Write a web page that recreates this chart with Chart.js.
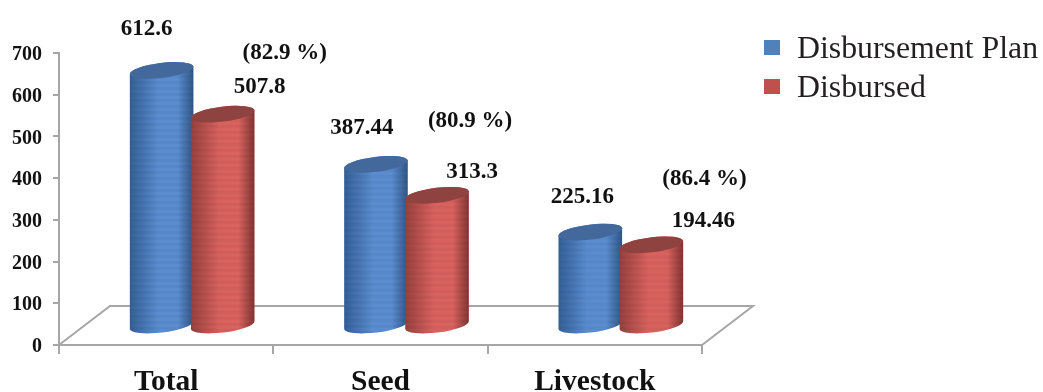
<!DOCTYPE html>
<html>
<head>
<meta charset="utf-8">
<style>
    html, body { margin: 0; padding: 0; background: #fff; overflow: hidden; }
    #wrap { position: relative; width: 1043px; height: 392px; }
    #legend { position: absolute; left: 764px; top: 28px; font: 31.8px "Liberation Serif", serif; color: #231f20; white-space: nowrap; }
    #legend div { height: 39px; line-height: 39px; position: relative; padding-left: 33px; }
    #legend i { position: absolute; left: 0; top: 12px; width: 16px; height: 15px; }
</style>
<script src="https://cdn.jsdelivr.net/npm/chart.js@4/dist/chart.umd.min.js"></script>
</head>
<body>
<div id="wrap">
    <canvas id="chart" width="1043" height="392"></canvas>
    <div id="legend"></div>
</div>
<script>
const categories = ['Total', 'Seed', 'Livestock'];
const planValues = [612.6, 387.44, 225.16];
const disbursedValues = [507.8, 313.3, 194.46];
const percentLabels = ['(82.9 %)', '(80.9 %)', '(86.4 %)'];
const yTicks = [0, 100, 200, 300, 400, 500, 600, 700];

// where each text sits relative to the top of its cylinder
const planLabelOffsets = [[-15, -41], [-14, -36], [-8, -35]];
const disbursedLabelOffsets = [[37, -27], [35, -23], [52, -24]];
const percentLabelOffsets = [[62, -61], [33, -74], [53, -66]];

const serif = '"Liberation Serif", serif';
const axisColor = '#a6a6a6';

// the floor runs back by this much, cylinders stand halfway along it
const floorDepth = { x: 51, y: 39 };
const barShift = { x: 26, y: -19 };
const tilt = -7 * Math.PI / 180;

const palette = [
    { legend: '#4f81bd', edge: '#335f97', mid: '#5a8ccf', dark: '#2f5583', top: '#43699c' },
    { legend: '#c0504d', edge: '#96403d', mid: '#d9625e', dark: '#7f3431', top: '#8f4340' }
];

function drawCylinder(ctx, bar, colors) {
    const cx = bar.x + barShift.x;
    const rx = bar.width / 2 + 1.5;
    const ry = 7.5;
    const topY = bar.y + barShift.y;
    const baseY = bar.base + barShift.y;

    const grad = ctx.createLinearGradient(cx - rx, 0, cx + rx, 0);
    grad.addColorStop(0, colors.edge);
    grad.addColorStop(0.45, colors.mid);
    grad.addColorStop(0.75, colors.mid);
    grad.addColorStop(1, colors.dark);

    ctx.save();
    ctx.beginPath();
    ctx.ellipse(cx, baseY, rx, ry, tilt, 0, Math.PI);
    ctx.ellipse(cx, topY, rx, ry, tilt, Math.PI, 0);
    ctx.closePath();
    ctx.fillStyle = grad;
    ctx.fill();

    // faint horizontal banding on the side of the cylinder
    ctx.clip();
    ctx.fillStyle = 'rgba(0, 0, 0, 0.035)';
    for (let y = topY - ry; y < baseY + ry; y += 6) {
        ctx.fillRect(cx - rx, y, rx * 2, 3);
    }
    ctx.restore();

    ctx.beginPath();
    ctx.ellipse(cx, topY, rx, ry, tilt, 0, Math.PI * 2);
    ctx.fillStyle = colors.top;
    ctx.fill();
}

const floorPlugin = {
    id: 'floor',
    beforeDraw(chart) {
        // serif digits ride high on a middle baseline, nudge them onto the tick
        chart.scales.y.getLabelItems().forEach(item => {
            if (!item.nudged) {
                item.textOffset += 2;
                item.nudged = true;
            }
        });
    },
    beforeDatasetsDraw(chart) {
        const { ctx, chartArea: { left, right, bottom } } = chart;
        ctx.save();
        ctx.strokeStyle = axisColor;
        ctx.lineWidth = 2;
        ctx.beginPath();
        ctx.moveTo(left, bottom);
        ctx.lineTo(left + floorDepth.x, bottom - floorDepth.y);
        ctx.lineTo(right + floorDepth.x, bottom - floorDepth.y);
        ctx.lineTo(right, bottom);
        ctx.stroke();
        ctx.restore();
    }
};

const cylinderPlugin = {
    id: 'cylinders',
    afterDatasetsDraw(chart) {
        const ctx = chart.ctx;
        chart.data.datasets.forEach((dataset, i) => {
            chart.getDatasetMeta(i).data.forEach(bar => drawCylinder(ctx, bar, palette[i]));
        });
    }
};

const labelPlugin = {
    id: 'barLabels',
    afterDraw(chart) {
        const ctx = chart.ctx;
        ctx.save();
        ctx.fillStyle = '#111';
        ctx.textAlign = 'center';
        ctx.textBaseline = 'middle';
        ctx.font = 'bold 23px ' + serif;

        const put = (text, bar, offset) => {
            ctx.fillText(text, bar.x + barShift.x + offset[0], bar.y + barShift.y + offset[1]);
        };
        chart.getDatasetMeta(0).data.forEach((bar, i) => put(String(planValues[i]), bar, planLabelOffsets[i]));
        chart.getDatasetMeta(1).data.forEach((bar, i) => {
            put(String(disbursedValues[i]), bar, disbursedLabelOffsets[i]);
            put(percentLabels[i], bar, percentLabelOffsets[i]);
        });
        ctx.restore();
    }
};

const chart = new Chart(document.getElementById('chart'), {
    type: 'bar',
    data: {
        labels: categories,
        datasets: [
            { label: 'Disbursement Plan', data: planValues, backgroundColor: 'transparent' },
            { label: 'Disbursed', data: disbursedValues, backgroundColor: 'transparent' }
        ]
    },
    options: {
        responsive: false,
        animation: false,
        categoryPercentage: 0.57,
        barPercentage: 1,
        layout: { padding: { left: 0, top: 53, right: 341, bottom: 0 } },
        plugins: { legend: { display: false }, tooltip: { enabled: false } },
        scales: {
            x: {
                afterFit: scale => { scale.height = 47; },
                border: { color: axisColor, width: 2 },
                grid: { drawOnChartArea: false, color: axisColor, lineWidth: 2, tickLength: 9 },
                ticks: { color: '#111', font: { family: serif, size: 29.5, weight: 'bold' }, padding: 11, maxRotation: 0 }
            },
            y: {
                min: 0,
                max: 700,
                afterFit: scale => { scale.width = 59; },
                afterBuildTicks: scale => { scale.ticks = yTicks.map(value => ({ value })); },
                border: { color: axisColor, width: 2 },
                grid: { drawOnChartArea: false, color: axisColor, lineWidth: 2, tickLength: 6 },
                ticks: { color: '#111', font: { family: serif, size: 20, weight: 'bold' }, padding: 11 }
            }
        }
    },
    plugins: [floorPlugin, cylinderPlugin, labelPlugin]
});

// legend sits in its own block to the right of the plot
const legendEl = document.getElementById('legend');
chart.data.datasets.forEach((dataset, i) => {
    const row = document.createElement('div');
    const swatch = document.createElement('i');
    swatch.style.background = palette[i].legend;
    row.appendChild(swatch);
    row.appendChild(document.createTextNode(dataset.label));
    legendEl.appendChild(row);
});
</script>
</body>
</html>
